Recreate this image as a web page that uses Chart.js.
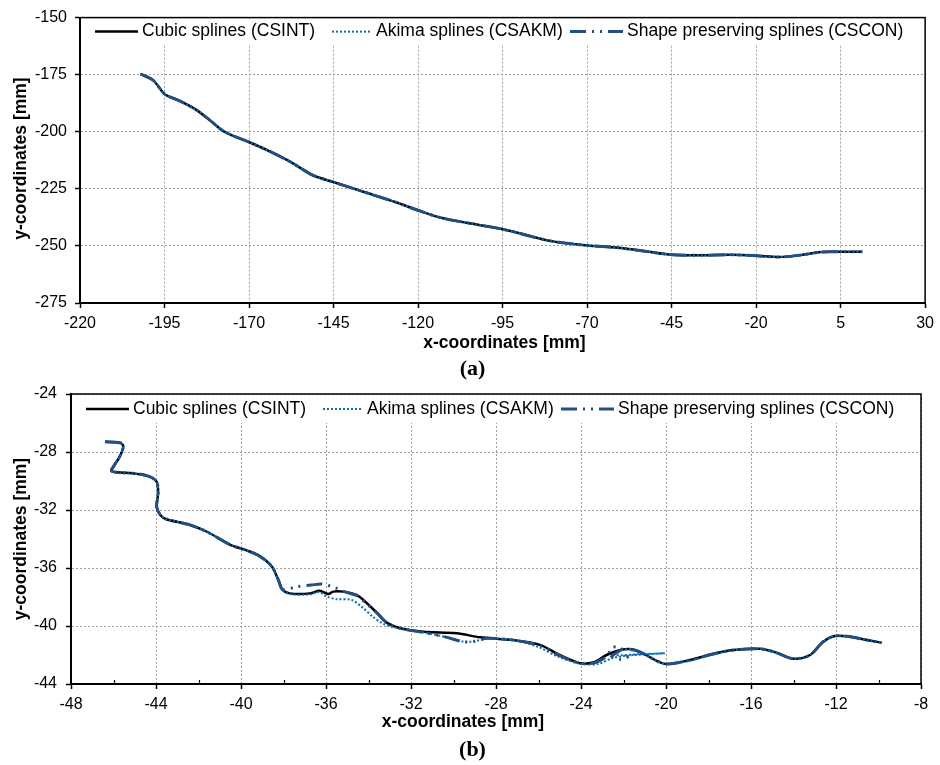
<!DOCTYPE html>
<html><head><meta charset="utf-8">
<script src="https://cdn.jsdelivr.net/npm/chart.js@4.4.1/dist/chart.umd.min.js"></script>
<style>
html,body{margin:0;padding:0;background:#fff;width:940px;height:765px;overflow:hidden}
canvas{position:absolute;left:0;top:0}
</style></head><body>
<canvas id="ca" width="940" height="765"></canvas>
<canvas id="cb" width="940" height="765"></canvas>
<script>
// ---------- data ----------
const seriesNames = ['Cubic splines (CSINT)', 'Akima splines (CSAKM)', 'Shape preserving splines (CSCON)'];

// panel (a) ticks
const xTicksA = [-220, -195, -170, -145, -120, -95, -70, -45, -20, 5, 30];
const yTicksA = [-275, -250, -225, -200, -175, -150];
// panel (b) ticks
const xTicksB = [-48, -44, -40, -36, -32, -28, -24, -20, -16, -12, -8];
const yTicksB = [-44, -40, -36, -32, -28, -24];
const xMinorB = [-46, -42, -38, -34, -30, -26, -22, -18, -14, -10];

// panel (a): the three splines overlap
const aCsintX = [-202.1, -198.4, -195.4, -194.4, -190.5, -185.6, -181.7, -177.8, -174.8, -169.9, -164.0, -157.6, -151.2, -145.3, -135.5, -125.7, -119.8, -112.9, -105.1, -95.2, -80.5, -69.9, -60.8, -52.9, -44.8, -36.2, -27.4, -19.9, -13.1, -6.7, -0.8, 5.0, 11.4];
const aCsintY = [-174.7, -177.4, -182.9, -184.1, -186.5, -190.4, -194.8, -199.5, -201.7, -204.6, -208.5, -213.3, -219.0, -221.9, -226.6, -231.3, -234.5, -237.8, -240.0, -242.6, -247.9, -249.8, -250.8, -252.3, -253.9, -254.1, -253.9, -254.3, -254.9, -254.0, -252.7, -252.6, -252.6];
const aAkimaX = aCsintX;
const aAkimaY = aCsintY;
const aCsconX = aCsintX;
const aCsconY = aCsintY;

// panel (b)
const bCsintX = [-46.4, -45.7, -45.54, -45.7, -46.0, -46.1, -45.85, -45.07, -44.36, -43.97, -43.9, -43.97, -43.8, -43.5, -42.4, -41.6, -40.5, -39.7, -39.1, -38.55, -38.24, -38.04, -37.7, -36.75, -36.3, -35.9, -35.66, -35.2, -34.56, -34.1, -33.6, -33.14, -32.5, -31.4, -29.85, -28.75, -27.2, -25.93, -25.0, -24.05, -23.4, -22.8, -22.16, -21.6, -21.07, -20.44, -19.97, -19.03, -17.8, -16.83, -15.58, -14.8, -14.0, -13.22, -12.6, -12.05, -11.34, -10.55, -9.85];
const bCsintY = [-27.3, -27.36, -27.6, -28.3, -29.0, -29.3, -29.4, -29.47, -29.66, -30.05, -30.85, -31.77, -32.34, -32.64, -33.03, -33.5, -34.4, -34.8, -35.2, -35.9, -36.83, -37.5, -37.75, -37.75, -37.57, -37.8, -37.63, -37.63, -37.86, -38.4, -39.1, -39.77, -40.16, -40.4, -40.5, -40.78, -40.97, -41.3, -42.0, -42.57, -42.5, -42.0, -41.66, -41.6, -41.9, -42.4, -42.62, -42.4, -41.93, -41.66, -41.57, -41.84, -42.26, -42.0, -41.08, -40.69, -40.74, -40.97, -41.15];

const bAkimaX = [-46.4, -45.7, -45.54, -45.7, -46.0, -46.1, -45.85, -45.07, -44.36, -43.97, -43.9, -43.97, -43.8, -43.5, -42.4, -41.6, -40.5, -39.7, -39.1, -38.55, -38.24, -38.04, -37.7, -36.75, -36.3, -36.0, -35.5, -34.8, -34.3, -33.8, -33.3, -32.5, -31.4, -30.4, -29.5, -29.0, -28.4, -27.2, -26.0, -25.1, -24.05, -23.2, -22.5, -21.5, -20.05, -21.3, -22.4, -22.16, -21.6, -21.07, -20.44, -19.97, -19.03, -17.8, -16.83, -15.58, -14.8, -14.0, -13.22, -12.6, -12.05, -11.34, -10.55, -9.85];
const bAkimaY = [-27.3, -27.36, -27.6, -28.3, -29.0, -29.3, -29.45, -29.5, -29.68, -30.05, -30.85, -31.77, -32.34, -32.64, -33.03, -33.5, -34.4, -34.8, -35.2, -35.9, -36.83, -37.5, -37.8, -37.82, -37.65, -37.95, -38.15, -38.2, -38.7, -39.35, -39.85, -40.2, -40.45, -40.75, -41.08, -41.05, -40.85, -40.97, -41.45, -42.1, -42.6, -42.62, -42.2, -42.0, -41.88, -41.95, -42.0, -41.7, -41.6, -41.9, -42.4, -42.62, -42.45, -41.98, -41.68, -41.57, -41.86, -42.26, -42.0, -41.08, -40.69, -40.74, -40.97, -41.15];

const bCsconX = [-46.4, -45.7, -45.54, -45.7, -46.0, -46.1, -45.85, -45.07, -44.36, -43.97, -43.9, -43.97, -43.8, -43.5, -42.4, -41.6, -40.5, -39.7, -39.1, -38.55, -38.24, -38.04, -37.4, -36.7, -36.2, -35.6, -35.1, -34.56, -34.1, -33.6, -33.14, -32.5, -31.4, -30.4, -29.5, -29.0, -28.4, -27.2, -25.93, -25.0, -24.05, -23.4, -22.9, -22.7, -22.56, -22.24, -22.08, -22.4, -22.56, -22.16, -21.85, -21.6, -21.07, -20.44, -19.97, -19.03, -17.8, -16.83, -15.58, -14.8, -14.0, -13.22, -12.6, -12.05, -11.34, -10.55, -9.85];
const bCsconY = [-27.3, -27.36, -27.6, -28.3, -29.0, -29.3, -29.4, -29.47, -29.66, -30.05, -30.85, -31.77, -32.34, -32.64, -33.03, -33.5, -34.4, -34.8, -35.2, -35.9, -36.83, -37.5, -37.3, -37.18, -37.1, -37.35, -37.65, -37.9, -38.45, -39.1, -39.77, -40.16, -40.45, -40.75, -41.1, -41.05, -40.85, -40.97, -41.35, -42.05, -42.57, -42.55, -42.2, -41.9, -41.5, -41.43, -41.6, -41.9, -42.1, -42.3, -42.2, -41.65, -41.9, -42.4, -42.62, -42.4, -41.93, -41.66, -41.57, -41.84, -42.26, -42.0, -41.08, -40.69, -40.74, -40.97, -41.15];

// ---------- styles ----------
const FF = '"Liberation Sans", Arial, sans-serif';
const lineStyles = [
  {color:'#000000', width:2.5, dash:[]},
  {color:'#0070C0', width:2, dash:[2,2]},
  {color:'#254E82', width:3, dash:[16,6,2,6,2,6]}
];
const legendPos = [[15,58,62],[252,290,296],[490,543,547]];

function pts(xs, ys){ return xs.map((x,i)=>({x:x, y:ys[i]})); }

function makeDatasets(list){
  return list.map((p,i)=>({
    label: seriesNames[i],
    data: pts(p[0], p[1]),
    showLine: true, pointRadius: 0, pointHoverRadius: 0,
    borderColor: lineStyles[i].color, borderWidth: lineStyles[i].width,
    borderDash: lineStyles[i].dash, borderCapStyle:'butt', borderJoinStyle:'round',
    tension: 0.3, fill: false, order: 3 - i
  }));
}

function axis(ticksArr, fitFn, pad){
  return {
    type:'linear', min: ticksArr[0], max: ticksArr[ticksArr.length-1],
    afterBuildTicks(s){ s.ticks = ticksArr.map(v=>({value:v})); },
    afterFit: fitFn,
    ticks:{font:{size:16, family:FF}, color:'#000', padding:pad, maxRotation:0, autoSkip:false},
    grid:{color:'#a0a0a0', lineWidth:1, tickLength:5, tickColor:'#000', tickWidth:1.5, drawTicks:true},
    border:{color:'#000', width:2, dash:[2,2]}
  };
}

function decor(cfg){
  return {
    id: 'decor' + cfg.id,
    beforeDatasetsDraw(chart){
      const {ctx, chartArea:a} = chart;
      ctx.save();
      ctx.fillStyle = '#fff';
      ctx.fillRect(a.left+1, a.top+1, a.right-a.left-2, cfg.legendH);
      const ly = a.top + cfg.legendDy;
      ctx.font = '17.5px ' + FF;
      ctx.textBaseline = 'middle'; ctx.textAlign = 'left';
      for (let i = 0; i < 3; i++){
        const st = lineStyles[i], lp = legendPos[i];
        ctx.beginPath();
        ctx.setLineDash(st.dash); ctx.lineWidth = st.width; ctx.strokeStyle = st.color;
        ctx.moveTo(a.left + lp[0], ly); ctx.lineTo(a.left + lp[1], ly); ctx.stroke();
        ctx.setLineDash([]);
        ctx.fillStyle = '#000';
        ctx.fillText(seriesNames[i], a.left + lp[2], ly);
      }
      ctx.restore();
    },
    afterDraw(chart){
      const {ctx, chartArea:a} = chart;
      ctx.save();
      ctx.setLineDash([]);
      ctx.strokeStyle = '#000'; ctx.lineWidth = 1.5;
      ctx.strokeRect(a.left, a.top, a.right-a.left, a.bottom-a.top);
      if (cfg.minor){
        const xs = chart.scales.x;
        ctx.lineWidth = 1.2;
        cfg.minor.forEach(v=>{
          const px = Math.round(xs.getPixelForValue(v)) + 0.5;
          ctx.beginPath(); ctx.moveTo(px, a.bottom); ctx.lineTo(px, a.bottom - 4); ctx.stroke();
        });
      }
      ctx.fillStyle = '#000';
      ctx.font = 'bold 17.5px ' + FF;
      ctx.textAlign = 'center'; ctx.textBaseline = 'middle';
      ctx.fillText('x-coordinates [mm]', cfg.xTitle[0], cfg.xTitle[1]);
      ctx.save();
      ctx.translate(cfg.yTitle[0], cfg.yTitle[1]);
      ctx.rotate(-Math.PI/2);
      ctx.fillText('y-coordinates [mm]', 0, 0);
      ctx.restore();
      ctx.font = 'bold 22px "Liberation Serif", "Times New Roman", serif';
      ctx.fillText(cfg.panel, cfg.panelPos[0], cfg.panelPos[1]);
      ctx.restore();
    }
  };
}

function makeChart(id, data, xt, yt, padding, yW, xH, yPad, cfg){
  return new Chart(document.getElementById(id), {
    type:'scatter',
    data:{datasets: makeDatasets(data)},
    options:{
      responsive:false, animation:false, devicePixelRatio:1,
      layout:{padding: padding},
      plugins:{legend:{display:false}, tooltip:{enabled:false}, title:{display:false}},
      events: [],
      scales:{
        x: axis(xt, s=>{ s.height = xH; }, 6),
        y: axis(yt, s=>{ s.width = yW; }, yPad)
      }
    },
    plugins:[decor(cfg)]
  });
}

makeChart('ca', [[aCsintX,aCsintY],[aAkimaX,aAkimaY],[aCsconX,aCsconY]], xTicksA, yTicksA,
  {top:14, right:12, bottom:385, left:0}, 80, 77, 8,
  {id:'a', legendH:27, legendDy:14, xTitle:[504.5, 343], yTitle:[21, 158.5], panel:'(a)', panelPos:[472.5, 369], minor:null});

makeChart('cb', [[bCsintX,bCsintY],[bAkimaX,bAkimaY],[bCsconX,bCsconY]], xTicksB, yTicksB,
  {top:394, right:19, bottom:0, left:0}, 71, 81, 9,
  {id:'b', legendH:28, legendDy:15, xTitle:[463, 722], yTitle:[21, 539], panel:'(b)', panelPos:[472.5, 750], minor:xMinorB});
</script>
</body></html>
